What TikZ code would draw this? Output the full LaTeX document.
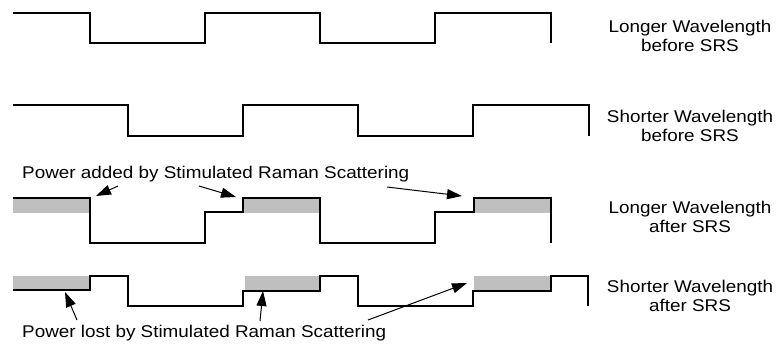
\documentclass[tikz,border=0pt]{standalone}
\usepackage{fontspec}
\setmainfont{Liberation Sans}[FakeStretch=1.11]
\usetikzlibrary{arrows.meta}
\tikzset{
  wave/.style={line width=2.6pt, line join=miter, line cap=butt},
  gain/.style={fill=black!25, draw=none},
  pointer/.style={line width=1pt, -{Triangle[length=15pt,width=10pt]}},
  lbl/.style={inner sep=0pt, font=\fontsize{17}{19}\selectfont},
}
\begin{document}
\begin{tikzpicture}[x=1pt,y=-1pt]
\useasboundingbox (0,0) rectangle (783,343);
% gray power regions
\fill[gain] (13,198) rectangle (90,213);
\fill[gain] (243,198) rectangle (320,213);
\fill[gain] (474,198) rectangle (551,213);
\fill[gain] (13,276) rectangle (90,290);
\fill[gain] (245,276) rectangle (320,290);
\fill[gain] (474,276) rectangle (551,290);
% waveforms
\draw[wave] (13,13) -- (90,13) -- (90,43) -- (205,43) -- (205,13) -- (320,13) -- (320,43) -- (435,43) -- (435,13) -- (551,13) -- (551,43);
\draw[wave] (13,105) -- (128,105) -- (128,136) -- (243,136) -- (243,105) -- (358,105) -- (358,136) -- (473,136) -- (473,105) -- (589,105) -- (589,136);
\draw[wave] (13,198) -- (90,198) -- (90,243) -- (205,243) -- (205,212) -- (243,212) -- (243,198) -- (320,198) -- (320,243) -- (435,243) -- (435,212) -- (474,212) -- (474,198) -- (551,198) -- (551,243);
\draw[wave] (13,290) -- (90,290) -- (90,276) -- (128,276) -- (128,306) -- (243,306) -- (243,291) -- (320,291) -- (320,276) -- (358,276) -- (358,306) -- (473,306) -- (473,291) -- (551,291) -- (551,276) -- (588,276) -- (588,306);
% right labels
\node[lbl, anchor=base] (l1a) at (690,32) {Longer Wavelength};
\node[lbl, anchor=base] (l1b) at (690,51) {before SRS};
\node[lbl, anchor=base] (l2a) at (690,122.5) {Shorter Wavelength};
\node[lbl, anchor=base] (l2b) at (690,141.5) {before SRS};
\node[lbl, anchor=base] (l3a) at (690,213.5) {Longer Wavelength};
\node[lbl, anchor=base] (l3b) at (690,232) {after SRS};
\node[lbl, anchor=base] (l4a) at (690,292.5) {Shorter Wavelength};
\node[lbl, anchor=base] (l4b) at (690,311.5) {after SRS};
% annotation labels
\node[lbl, anchor=base west] (added) at (22,178) {Power added by Stimulated Raman Scattering};
\node[lbl, anchor=base west] (lost) at (22,337) {Power lost by Stimulated Raman Scattering};
% arrow ends
\coordinate (a1s) at (118,186); \coordinate (a1e) at (96,196);
\coordinate (a2s) at (199,186); \coordinate (a2e) at (236,197);
\coordinate (a3s) at (387,187); \coordinate (a3e) at (462,196);
\coordinate (b1s) at (77,320);  \coordinate (b1e) at (65,292);
\coordinate (b2s) at (260,321); \coordinate (b2e) at (263,291);
\coordinate (b3s) at (368,320); \coordinate (b3e) at (467,283);
\draw[pointer] (a1s) -- (a1e);
\draw[pointer] (a2s) -- (a2e);
\draw[pointer] (a3s) -- (a3e);
\draw[pointer] (b1s) -- (b1e);
\draw[pointer] (b2s) -- (b2e);
\draw[pointer] (b3s) -- (b3e);
\end{tikzpicture}
\end{document}
